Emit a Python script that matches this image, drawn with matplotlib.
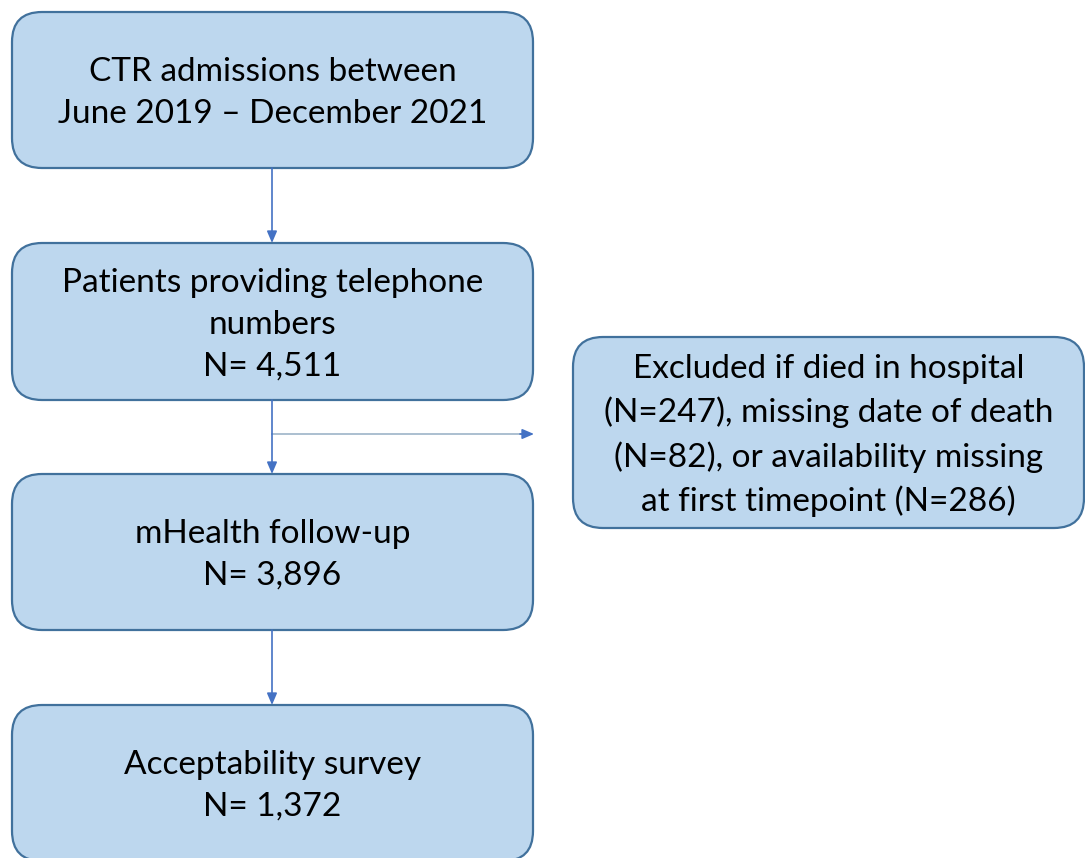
import matplotlib.pyplot as plt
from matplotlib.patches import FancyBboxPatch

# Box texts
main_labels = [
    'CTR admissions between\nJune 2019 \u2013 December 2021',
    'Patients providing telephone\nnumbers\nN= 4,511',
    'mHealth follow-up\nN= 3,896',
    'Acceptability survey\nN= 1,372',
]
side_label = ('Excluded if died in hospital\n(N=247), missing date of death\n'
              '(N=82), or availability missing\nat first timepoint (N=286)')

fill = '#BDD7EE'
edge = '#41719C'
arrow_col = '#4472C4'

fig = plt.figure(figsize=(10.85, 8.58), dpi=100)
ax = fig.add_axes([0, 0, 1, 1])
ax.set_xlim(0, 1085)
ax.set_ylim(858, 0)
ax.axis('off')

def box(x0, y0, x1, y1, text):
    r = 30
    p = FancyBboxPatch((x0 + r, y0 + r), (x1 - x0) - 2 * r, (y1 - y0) - 2 * r,
                       boxstyle='round,pad=%d' % r, fc=fill, ec=edge, lw=1.6)
    ax.add_patch(p)
    ax.text((x0 + x1) / 2, (y0 + y1) / 2 + 3, text, ha='center', va='center',
            fontsize=24, family='Lato', linespacing=1.5, color='black')

# main column boxes (top, bottom)
rows = [(12, 168), (243, 400), (474, 630), (705, 861)]
for (y0, y1), lab in zip(rows, main_labels):
    box(12, y0, 533, y1, lab)

box(573, 337, 1084, 528, side_label)

# vertical arrows
cx = 272
for (a, b) in zip(rows[:-1], rows[1:]):
    ax.annotate('', xy=(cx, b[0]), xytext=(cx, a[1]),
                arrowprops=dict(arrowstyle='-|>,head_length=0.7,head_width=0.3',
                                color=arrow_col, lw=1.2, shrinkA=0, shrinkB=0))

# exclusion branch
ax.plot([cx, 522], [434, 434], color='#9DB4C8', lw=1.2)
ax.annotate('', xy=(534, 434), xytext=(520, 434),
            arrowprops=dict(arrowstyle='-|>,head_length=0.7,head_width=0.3',
                            color=arrow_col, lw=1.2, shrinkA=0, shrinkB=0))

plt.savefig('out.png', dpi=100)
